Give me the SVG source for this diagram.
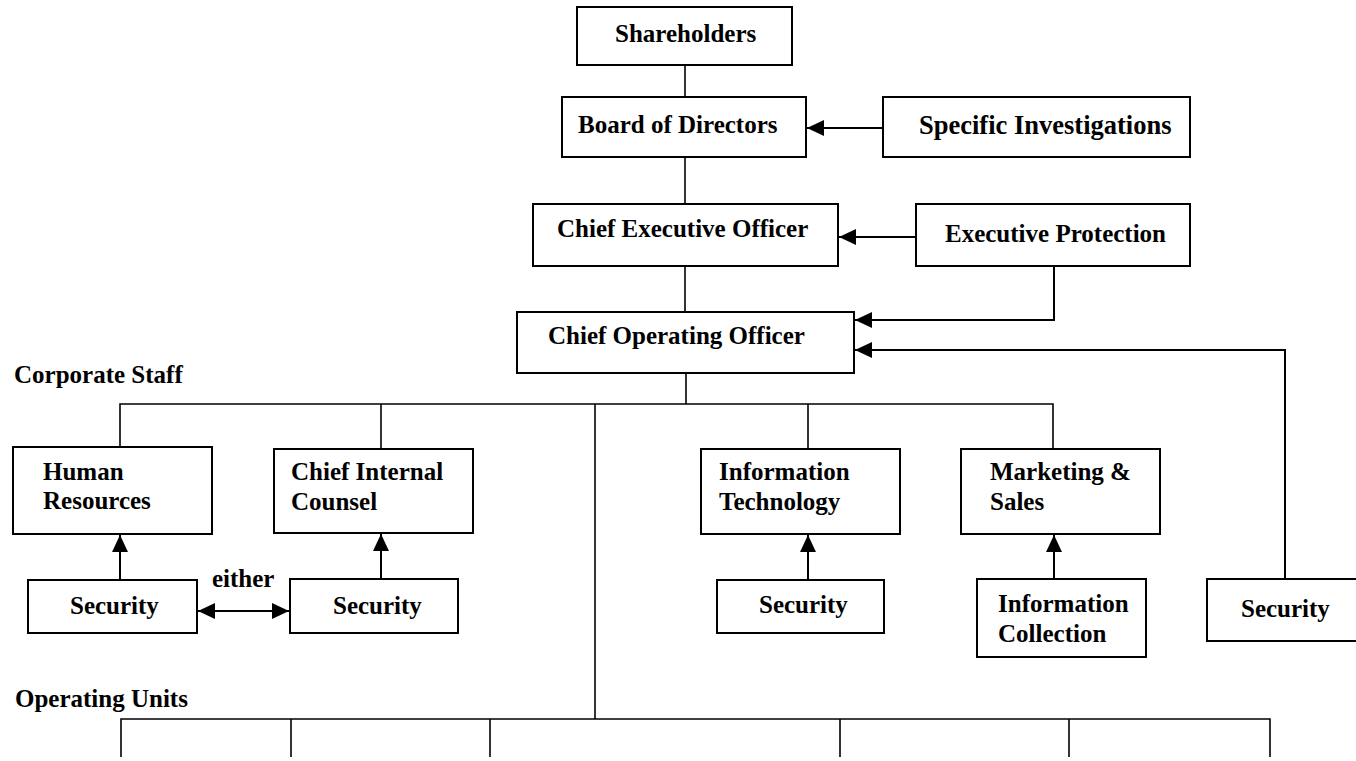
<svg xmlns="http://www.w3.org/2000/svg" width="1356" height="761" viewBox="0 0 1356 761">
  <style>
    .box { fill: #ffffff; stroke: #000000; stroke-width: 2; }
    .t { font-family: "Liberation Serif", "Times New Roman", serif; font-weight: bold; font-size: 25px; fill: #000000; }
    .ln { fill: none; stroke: #000000; stroke-width: 1.6; }
    .arr { fill: none; stroke: #000000; stroke-width: 2; marker-end: url(#head); }
    .arr2 { fill: none; stroke: #000000; stroke-width: 2; marker-start: url(#head); marker-end: url(#head); }
  </style>
  <defs>
    <marker id="head" viewBox="0 0 17 16" refX="17" refY="8" markerWidth="17" markerHeight="16" markerUnits="userSpaceOnUse" orient="auto-start-reverse">
      <path d="M0,0 L17,8 L0,16 Z" fill="#000000"/>
    </marker>
  </defs>
  <rect width="1356" height="761" fill="#ffffff"/>

  <!-- connectors -->
  <g id="connectors">
    <path class="ln" d="M685,65 V97"/>
    <path class="arr" d="M883,128 H807"/>
    <path class="ln" d="M685,157 V204"/>
    <path class="arr" d="M916,237 H839"/>
    <path class="ln" d="M685,266 V312"/>
    <path class="arr" d="M1054,266 V320 H855"/>
    <path class="arr" d="M1285,579 V350 H855"/>
    <path class="ln" d="M686,373 V404"/>
    <path class="ln" d="M120,447 V404 H1053 V449"/>
    <path class="ln" d="M381,404 V449"/>
    <path class="ln" d="M808,404 V449"/>
    <path class="ln" d="M595,404 V719"/>
    <path class="ln" d="M121,757 V719 H1270 V757"/>
    <path class="ln" d="M291,719 V757"/>
    <path class="ln" d="M490,719 V757"/>
    <path class="ln" d="M840,719 V757"/>
    <path class="ln" d="M1069,719 V757"/>
    <path class="arr" d="M120,580 V535"/>
    <path class="arr" d="M381,579 V534"/>
    <path class="arr" d="M808,580 V535"/>
    <path class="arr" d="M1054,579 V535"/>
    <path class="arr2" d="M198,611 H289"/>
  </g>

  <!-- section labels -->
  <text class="t" x="14" y="383">Corporate Staff</text>
  <text class="t" x="15" y="707">Operating Units</text>
  <text class="t" x="212" y="587">either</text>

  <g id="shareholders">
    <rect class="box" x="577" y="7" width="215" height="58"/>
    <text class="t" x="615" y="42">Shareholders</text>
  </g>
  <g id="board">
    <rect class="box" x="562" y="97" width="244" height="60"/>
    <text class="t" x="578" y="133">Board of Directors</text>
  </g>
  <g id="specific-investigations">
    <rect class="box" x="883" y="97" width="307" height="60"/>
    <text class="t" x="919" y="134" style="font-size:26.5px">Specific Investigations</text>
  </g>
  <g id="ceo">
    <rect class="box" x="533" y="204" width="305" height="62"/>
    <text class="t" x="557" y="237">Chief Executive Officer</text>
  </g>
  <g id="executive-protection">
    <rect class="box" x="916" y="204" width="274" height="62"/>
    <text class="t" x="945" y="242">Executive Protection</text>
  </g>
  <g id="coo">
    <rect class="box" x="517" y="312" width="337" height="61"/>
    <text class="t" x="548" y="344">Chief Operating Officer</text>
  </g>

  <g id="human-resources">
    <rect class="box" x="13" y="447" width="199" height="87"/>
    <text class="t" x="43" y="480">Human</text>
    <text class="t" x="43" y="509">Resources</text>
  </g>
  <g id="chief-internal-counsel">
    <rect class="box" x="274" y="449" width="199" height="84"/>
    <text class="t" x="291" y="480">Chief Internal</text>
    <text class="t" x="291" y="510">Counsel</text>
  </g>
  <g id="information-technology">
    <rect class="box" x="701" y="449" width="199" height="85"/>
    <text class="t" x="719" y="480">Information</text>
    <text class="t" x="719" y="510">Technology</text>
  </g>
  <g id="marketing-sales">
    <rect class="box" x="961" y="449" width="199" height="85"/>
    <text class="t" x="990" y="480">Marketing &amp;</text>
    <text class="t" x="990" y="510">Sales</text>
  </g>

  <g id="security-hr">
    <rect class="box" x="28" y="580" width="169" height="53"/>
    <text class="t" x="70" y="614">Security</text>
  </g>
  <g id="security-counsel">
    <rect class="box" x="290" y="579" width="168" height="54"/>
    <text class="t" x="333" y="614">Security</text>
  </g>
  <g id="security-it">
    <rect class="box" x="717" y="580" width="167" height="53"/>
    <text class="t" x="759" y="613">Security</text>
  </g>
  <g id="information-collection">
    <rect class="box" x="977" y="579" width="169" height="78"/>
    <text class="t" x="998" y="612">Information</text>
    <text class="t" x="998" y="642">Collection</text>
  </g>
  <g id="security-coo">
    <rect class="box" x="1207" y="579" width="160" height="62"/>
    <text class="t" x="1241" y="617">Security</text>
  </g>
</svg>
